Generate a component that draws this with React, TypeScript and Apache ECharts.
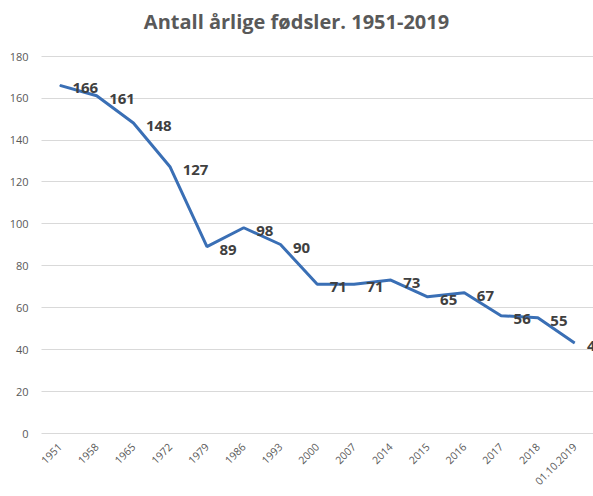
import React, { useEffect, useRef } from "react";
import * as echarts from "echarts";

const categories = ["1951", "1958", "1965", "1972", "1979", "1986", "1993", "2000", "2007", "2014", "2015", "2016", "2017", "2018", "01.10.2019"];
const births = [166, 161, 148, 127, 89, 98, 90, 71, 71, 73, 65, 67, 56, 55, 43];
const titleText = "Antall årlige fødsler. 1951-2019";

export default function App() {
  const ref = useRef<HTMLDivElement>(null);
  useEffect(() => {
    const chart = echarts.init(ref.current!, null, { renderer: "svg" });
    chart.setOption({
      animation: false,
      textStyle: { fontFamily: "Open Sans" },
      title: {
        text: titleText,
        left: "center",
        top: 6,
        textStyle: { fontSize: 20, fontWeight: "bold", color: "#595959", fontFamily: "Open Sans" },
      },
      grid: { left: 41.5, right: -5, top: 56, bottom: 63 },
      xAxis: {
        type: "category",
        data: categories,
        boundaryGap: true,
        axisLine: { show: false },
        axisTick: { show: false },
        axisLabel: { rotate: 45, color: "#595959", fontSize: 10.5, margin: 12, interval: 0 },
      },
      yAxis: {
        type: "value",
        min: 0,
        max: 180,
        interval: 20,
        axisLine: { show: false },
        axisTick: { show: false },
        axisLabel: { color: "#595959", fontSize: 11, margin: 13 },
        splitLine: { lineStyle: { color: "#d9d9d9", width: 1 } },
      },
      series: [
        {
          type: "line",
          data: births,
          showSymbol: true,
          symbol: "circle",
          symbolSize: 1,
          itemStyle: { color: "#3a6fb5" },
          lineStyle: { color: "#3a6fb5", width: 3 },
          label: {
            show: true,
            position: "right",
            distance: 12,
            offset: [0, 2],
            fontSize: 15,
            fontWeight: "bold",
            color: "#404040",
            fontFamily: "Open Sans",
          },
        },
      ],
    });
    return () => chart.dispose();
  }, []);
  return <div ref={ref} style={{ width: 593, height: 496, position: "absolute", left: 0, top: 0 }} />;
}
